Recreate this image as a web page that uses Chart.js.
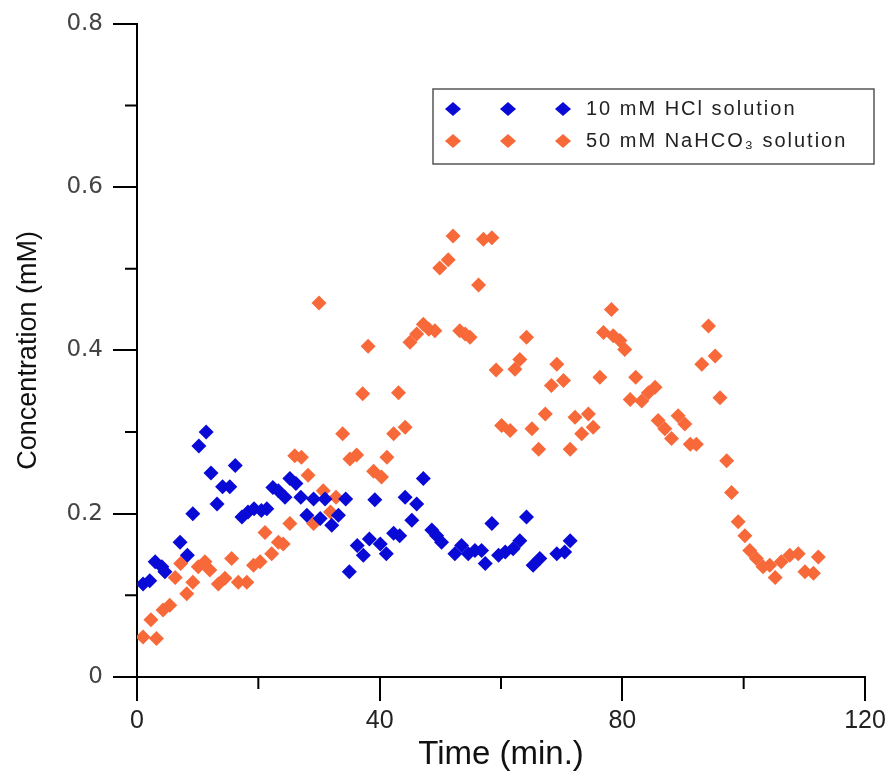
<!DOCTYPE html>
<html>
<head>
<meta charset="utf-8">
<script src="https://cdn.jsdelivr.net/npm/chart.js@4"></script>
<style>
  html, body { margin: 0; padding: 0; background: #fff; }
  #wrap { width: 894px; height: 775px; }
</style>
</head>
<body>
<div id="wrap"><canvas id="chart"></canvas></div>
<script>
// Data
const hclTime = [1.0, 2.1, 3.0, 4.1, 4.6, 7.1, 8.3, 9.2, 10.2, 11.4, 12.2, 13.2, 14.1, 15.3, 16.2, 17.3, 18.3, 19.3, 20.5, 21.4,
  22.4, 23.3, 24.4, 25.2, 26.2, 27.0, 28.0, 29.1, 30.2, 31.0, 32.1, 33.2, 34.4, 35.0, 36.3, 37.3, 38.3, 39.2, 40.1, 41.1,
  42.3, 43.3, 44.2, 45.3, 46.1, 47.2, 48.6, 49.4, 50.2, 52.4, 53.5, 54.6, 55.7, 56.8, 57.4, 58.5, 59.6, 60.7, 62.0, 63.1,
  64.2, 65.3, 66.4, 69.2, 70.5, 71.4];
const hclConc = [0.114, 0.118, 0.141, 0.135, 0.129, 0.165, 0.149, 0.200, 0.283, 0.300, 0.250, 0.212, 0.233, 0.233, 0.259, 0.196, 0.202, 0.206, 0.204, 0.206,
  0.232, 0.228, 0.220, 0.243, 0.237, 0.220, 0.198, 0.218, 0.194, 0.218, 0.186, 0.198, 0.218, 0.129, 0.161, 0.149, 0.169, 0.217, 0.163, 0.151,
  0.176, 0.173, 0.220, 0.192, 0.212, 0.243, 0.180, 0.173, 0.165, 0.151, 0.161, 0.151, 0.155, 0.155, 0.139, 0.188, 0.149, 0.153, 0.157, 0.167,
  0.196, 0.137, 0.145, 0.151, 0.153, 0.167];

const bicTime = [1.0, 2.3, 3.2, 4.3, 5.4, 6.3, 7.2, 8.2, 9.2, 10.1, 11.2, 12.0, 13.4, 14.5, 15.6, 16.7, 18.1, 19.2, 20.3, 21.1,
  22.2, 23.3, 24.1, 25.2, 26.0, 27.1, 28.2, 29.1, 30.0, 30.7, 31.9, 32.8, 33.9, 35.1, 36.2, 37.2, 38.1, 39.0, 40.3, 41.2,
  42.3, 43.1, 44.2, 45.0, 46.1, 47.2, 48.1, 49.1, 49.9, 51.3, 52.1, 53.2, 54.1, 54.9, 56.3, 57.1, 58.5, 59.2, 60.1, 61.5,
  62.3, 63.1, 64.2, 65.1, 66.2, 67.3, 68.3, 69.2, 70.3, 71.4, 72.2, 73.3, 74.4, 75.2, 76.3, 76.9, 78.2, 78.5, 79.6, 80.4,
  81.3, 82.2, 83.2, 84.3, 85.4, 85.9, 87.0, 88.1, 89.2, 90.3, 91.2, 92.2, 93.1, 94.2, 95.3, 96.1, 97.2, 98.0, 99.1, 100.2,
  101.0, 102.1, 103.2, 104.3, 105.2, 106.2, 107.6, 109.0, 110.1, 111.5, 112.3];
const bicConc = [0.049, 0.070, 0.047, 0.082, 0.088, 0.122, 0.139, 0.102, 0.116, 0.135, 0.141, 0.131, 0.114, 0.121, 0.145, 0.116, 0.116, 0.137, 0.141, 0.177,
  0.151, 0.165, 0.163, 0.188, 0.271, 0.269, 0.247, 0.188, 0.458, 0.228, 0.202, 0.220, 0.298, 0.267, 0.272, 0.347, 0.405, 0.252, 0.245, 0.269,
  0.298, 0.348, 0.306, 0.410, 0.420, 0.432, 0.426, 0.424, 0.501, 0.511, 0.540, 0.424, 0.420, 0.416, 0.480, 0.536, 0.538, 0.376, 0.308, 0.302,
  0.377, 0.389, 0.416, 0.304, 0.279, 0.322, 0.357, 0.383, 0.363, 0.279, 0.318, 0.298, 0.322, 0.306, 0.367, 0.422, 0.450, 0.418, 0.412, 0.401,
  0.340, 0.367, 0.338, 0.348, 0.355, 0.314, 0.304, 0.292, 0.320, 0.310, 0.285, 0.285, 0.383, 0.430, 0.393, 0.342, 0.265, 0.226, 0.190, 0.173,
  0.155, 0.145, 0.135, 0.137, 0.122, 0.141, 0.149, 0.151, 0.129, 0.127, 0.147];

const xMajor = [0, 40, 80, 120];
const xMinor = [20, 60, 100];
const yMajor = [0, 0.2, 0.4, 0.6, 0.8];
const yMinor = [0.1, 0.3, 0.5, 0.7];

const legendLabels = ['10 mM HCl solution', '50 mM NaHCO\u2083 solution'];

const BLUE = '#0a0ad6';
const ORANGE = '#f8693a';

function toPoints(xs, ys) {
  return xs.map((x, i) => ({ x: x, y: ys[i] }));
}

// Short minor ticks on both axes
const minorTicks = {
  id: 'minorTicks',
  afterDraw(chart) {
    const ctx = chart.ctx;
    const xs = chart.scales.x, ys = chart.scales.y;
    ctx.save();
    ctx.strokeStyle = '#000';
    ctx.lineWidth = 2;
    ctx.beginPath();
    xMinor.forEach(v => {
      const px = xs.getPixelForValue(v);
      ctx.moveTo(px, xs.top);
      ctx.lineTo(px, xs.top + 12);
    });
    yMinor.forEach(v => {
      const py = ys.getPixelForValue(v);
      ctx.moveTo(ys.right, py);
      ctx.lineTo(ys.right - 12, py);
    });
    ctx.stroke();
    ctx.restore();
  }
};

// Legend box with three symbols per row
const boxLegend = {
  id: 'boxLegend',
  afterDraw(chart) {
    const ctx = chart.ctx;
    const colors = [BLUE, ORANGE];
    ctx.save();
    ctx.strokeStyle = '#555';
    ctx.lineWidth = 1.5;
    ctx.strokeRect(433, 89, 441, 75);
    ctx.font = '20px "Liberation Sans", Arial, sans-serif';
    ctx.letterSpacing = '2px';
    ctx.textBaseline = 'middle';
    legendLabels.forEach((label, i) => {
      const cy = 109 + i * 32;
      [453, 508, 563].forEach(cx => {
        ctx.beginPath();
        ctx.fillStyle = colors[i];
        ctx.moveTo(cx - 8, cy);
        ctx.lineTo(cx, cy - 7);
        ctx.lineTo(cx + 8, cy);
        ctx.lineTo(cx, cy + 7);
        ctx.closePath();
        ctx.fill();
      });
      ctx.fillStyle = '#222';
      ctx.fillText(label, 586, cy);
    });
    ctx.restore();
  }
};

const ctx = document.getElementById('chart').getContext('2d');
const chart = new Chart(ctx, {
  type: 'scatter',
  data: {
    datasets: [
      {
        label: legendLabels[0],
        data: toPoints(hclTime, hclConc),
        pointStyle: 'rectRot',
        pointRadius: 7.5,
        backgroundColor: BLUE,
        borderColor: BLUE,
        borderWidth: 0
      },
      {
        label: legendLabels[1],
        data: toPoints(bicTime, bicConc),
        pointStyle: 'rectRot',
        pointRadius: 7.5,
        backgroundColor: ORANGE,
        borderColor: ORANGE,
        borderWidth: 0
      }
    ]
  },
  options: {
    responsive: true,
    maintainAspectRatio: false,
    animation: false,
    layout: { padding: { left: 0, top: 22, right: 29, bottom: 0 } },
    plugins: {
      legend: { display: false },
      tooltip: { enabled: false }
    },
    scales: {
      x: {
        type: 'linear',
        min: 0,
        max: 120,
        afterBuildTicks: (scale) => { scale.ticks = xMajor.map(v => ({ value: v })); },
        afterFit: (scale) => { scale.height = 98; },
        border: { display: true, color: '#000', width: 2 },
        grid: { drawOnChartArea: false, drawTicks: true, tickLength: 24, color: '#000', lineWidth: 2 },
        ticks: {
          color: '#222',
          padding: 5,
          maxRotation: 0,
          font: { family: '"Liberation Sans", Arial, sans-serif', size: 25 }
        },
        title: {
          display: true,
          text: 'Time (min.)',
          color: '#111',
          padding: { top: 0, bottom: 0 },
          font: { family: '"Liberation Sans", Arial, sans-serif', size: 33 }
        }
      },
      y: {
        type: 'linear',
        min: 0,
        max: 0.8,
        afterBuildTicks: (scale) => { scale.ticks = yMajor.map(v => ({ value: v })); },
        afterFit: (scale) => { scale.width = 137; },
        border: { display: true, color: '#000', width: 2 },
        grid: { drawOnChartArea: false, drawTicks: true, tickLength: 24, color: '#000', lineWidth: 2 },
        ticks: {
          color: '#444',
          padding: 10,
          callback: (v) => v === 0 ? '0' : v.toFixed(1),
          font: { family: '"DejaVu Sans", sans-serif', size: 23 }
        },
        title: {
          display: true,
          text: 'Concentration (mM)',
          color: '#111',
          padding: { top: 12, bottom: 0 },
          font: { family: '"Liberation Sans", Arial, sans-serif', size: 27 }
        }
      }
    }
  },
  plugins: [minorTicks, boxLegend]
});
</script>
</body>
</html>
